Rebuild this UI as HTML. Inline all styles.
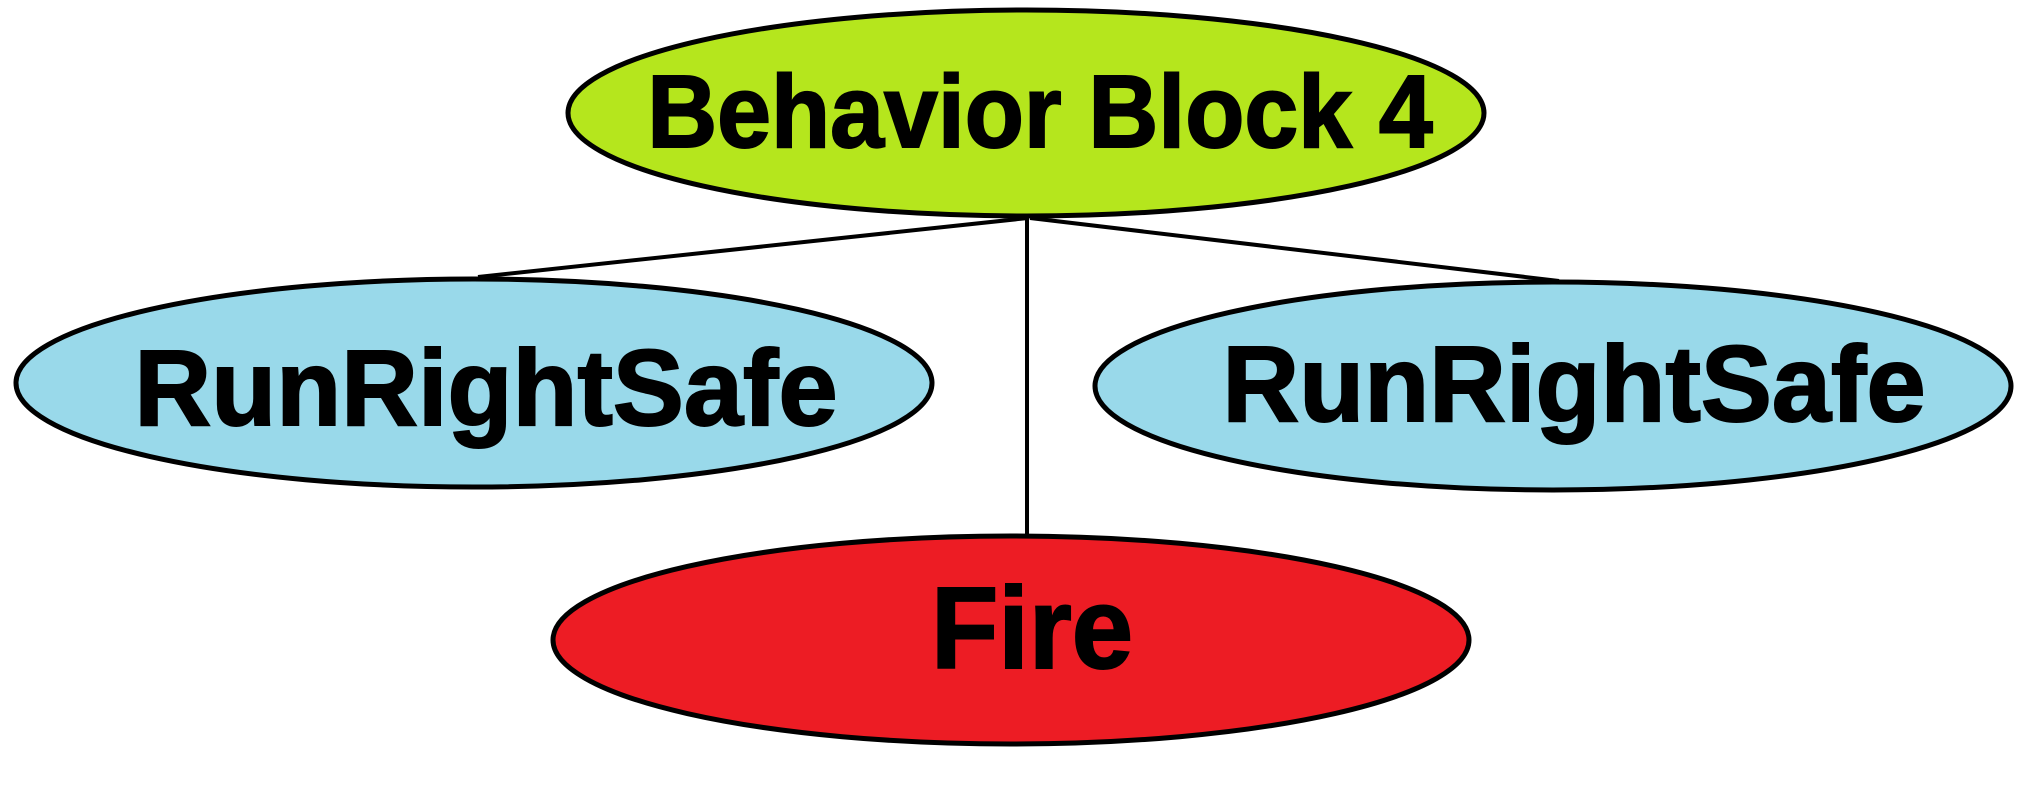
<!DOCTYPE html>
<html><head><style>html,body{margin:0;padding:0;background:#fff}</style></head>
<body>
<svg width="2044" height="798" viewBox="0 0 2044 798" xmlns="http://www.w3.org/2000/svg">
<g stroke="#000" stroke-width="4" fill="none">
<line x1="1028" y1="218" x2="478" y2="277"/>
<line x1="1030" y1="218" x2="1559" y2="281"/>
<line x1="1027" y1="216" x2="1027" y2="537"/>
</g>
<g stroke="#000" stroke-width="5">
<ellipse cx="1026" cy="113" rx="458" ry="103" fill="#b5e61d"/>
<ellipse cx="474" cy="383" rx="458" ry="104" fill="#99d9ea"/>
<ellipse cx="1553" cy="386" rx="458" ry="104" fill="#99d9ea"/>
<ellipse cx="1011" cy="640" rx="458" ry="104" fill="#ed1c24"/>
</g>
<g font-family="'Liberation Sans', sans-serif" font-weight="bold" fill="#000" stroke="#000" stroke-width="2" text-anchor="middle">
<text font-size="103" transform="translate(1040,147) scale(0.94,1)">Behavior Block 4</text>
<text font-size="108" transform="translate(486,425) scale(0.985,1)">RunRightSafe</text>
<text font-size="108" transform="translate(1574,421) scale(0.985,1)">RunRightSafe</text>
<text font-size="116" transform="translate(1032,668) scale(0.95,1)">Fire</text>
</g>
</svg>
</body></html>
